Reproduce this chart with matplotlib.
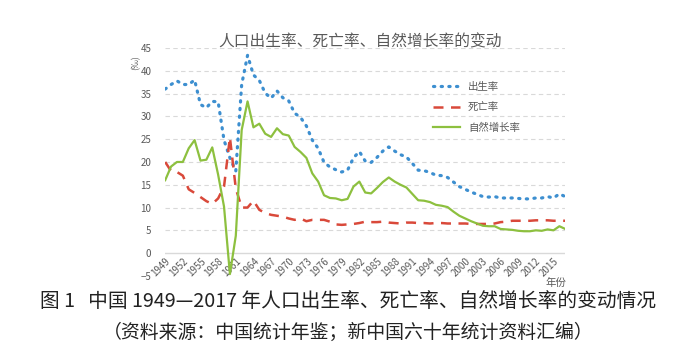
import matplotlib
matplotlib.use('Agg')
import matplotlib.pyplot as plt
import numpy as np

plt.rcParams['font.family'] = ['Noto Sans CJK SC', 'DejaVu Sans']

years = list(range(1949, 2018))
birth = [36.0, 37.0, 37.8, 37.0, 37.0, 38.0, 32.6, 31.9, 33.3, 33.2, 24.8, 20.9, 18.0, 37.0, 43.4, 39.1,
         37.9, 35.1, 34.0, 35.6, 34.1, 33.4, 30.7, 29.8, 27.9, 24.8, 23.0, 19.9, 18.9, 18.3, 17.8, 18.2,
         20.9, 22.3, 20.2, 19.9, 21.0, 22.4, 23.3, 22.4, 21.6, 21.1, 19.7, 18.2, 18.1, 17.7, 17.1, 17.0,
         16.6, 15.6, 14.6, 14.0, 13.4, 12.9, 12.4, 12.3, 12.4, 12.1, 12.1, 12.1, 12.0, 11.9, 11.9, 12.1,
         12.1, 12.4, 12.1, 13.0, 12.4]
death = [20.0, 18.0, 17.8, 17.0, 14.0, 13.2, 12.3, 11.4, 10.8, 12.0, 14.6, 25.4, 14.2, 10.0, 10.0, 11.5,
         9.5, 8.8, 8.4, 8.2, 8.0, 7.6, 7.3, 7.6, 7.0, 7.3, 7.3, 7.3, 6.9, 6.3, 6.2, 6.3,
         6.4, 6.6, 6.9, 6.8, 6.8, 6.9, 6.7, 6.6, 6.5, 6.7, 6.7, 6.6, 6.6, 6.5, 6.6, 6.6,
         6.5, 6.5, 6.5, 6.5, 6.4, 6.4, 6.4, 6.4, 6.5, 6.8, 6.9, 7.1, 7.1, 7.1, 7.1, 7.2,
         7.2, 7.2, 7.1, 7.1, 7.1]
growth = [16.0, 19.0, 20.0, 20.0, 23.0, 24.8, 20.3, 20.5, 23.2, 17.2, 10.2, -4.6, 3.8, 27.0, 33.3, 27.6,
          28.4, 26.2, 25.5, 27.4, 26.1, 25.8, 23.3, 22.2, 20.9, 17.5, 15.7, 12.7, 12.1, 12.0, 11.6, 11.9,
          14.6, 15.7, 13.3, 13.1, 14.3, 15.6, 16.6, 15.7, 15.0, 14.4, 13.0, 11.6, 11.5, 11.2, 10.6, 10.4,
          10.1, 9.1, 8.2, 7.6, 7.0, 6.5, 6.0, 5.9, 5.9, 5.3, 5.2, 5.1, 4.9, 4.8, 4.8, 5.0,
          4.9, 5.2, 5.0, 5.9, 5.3]
labels = ['出生率', '死亡率', '自然增长率']
yticks = [-5, 0, 5, 10, 15, 20, 25, 30, 35, 40, 45]

fig = plt.figure(figsize=(6.97, 3.56), dpi=100)
ax = fig.add_axes([0.237, 0.225, 0.574, 0.64])

# category axis crosses at 0, like the Excel original (set before tick labels)
ax.spines['bottom'].set_position(('data', 0))
for s in ax.spines.values():
    s.set_color('none')

for t in yticks:
    if t != 0:
        ax.axhline(t, color='#d9d9d9', lw=0.8, ls=(0, (4, 3)), zorder=0)
ax.axhline(0, color='#d9d9d9', lw=1.0, zorder=0)

ax.plot(years, birth, color='#3d8fd0', lw=2.3, ls=(0, (0.4, 2.0)), dash_capstyle='round', label=labels[0])
ax.plot(years, death, color='#d9493a', lw=1.8, ls=(0, (4, 3)), label=labels[1])
ax.plot(years, growth, color='#8dc03f', lw=1.6, label=labels[2])

ax.set_xlim(1949, 2017)
ax.set_ylim(-5, 45)
ax.set_yticks(yticks)
ax.set_xticks(years[::3])
ax.set_xticklabels([str(y) for y in years[::3]], rotation=45, ha='right', rotation_mode='anchor')
ax.tick_params(axis='both', length=0, labelsize=7, colors='#595959')
ax.tick_params(axis='y', pad=10)
ax.tick_params(axis='x', pad=2)

ax.legend(loc='upper left', bbox_to_anchor=(0.645, 0.893), frameon=False, fontsize=7.5,
          handlelength=2.6, labelspacing=1.0, labelcolor='#595959')

fig.text(0.517, 0.882, '人口出生率、死亡率、自然增长率的变动', ha='center', va='center',
         fontsize=11.3, color='#595959')
fig.text(0.195, 0.825, '(‰)', ha='center', va='center', rotation=90, fontsize=6.5, color='#595959')
fig.text(0.797, 0.205, '年份', ha='center', va='center', fontsize=7.5, color='#595959')

fig.text(0.5, 0.152, '图 1   中国 1949—2017 年人口出生率、死亡率、自然增长率的变动情况',
         ha='center', va='center', fontsize=14.2, color='#222222')
fig.text(0.5, 0.065, '（资料来源：中国统计年鉴；新中国六十年统计资料汇编）',
         ha='center', va='center', fontsize=13.6, color='#222222')

fig.savefig('out.png', dpi=100)
